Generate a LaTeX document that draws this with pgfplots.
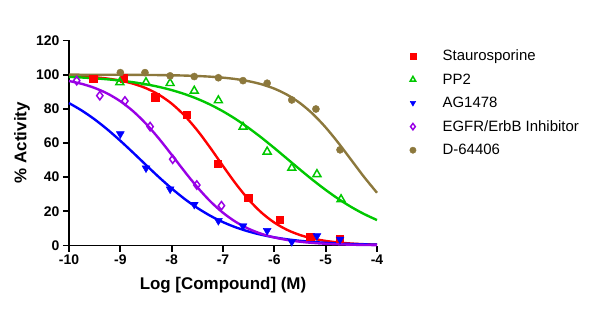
\documentclass[border=0pt]{standalone}
\usepackage{fontspec}
\setmainfont{Liberation Sans}
\usepackage{pgfplots}
\pgfplotsset{compat=1.18}
\definecolor{cRed}{RGB}{255,0,0}
\definecolor{cGreen}{RGB}{0,200,0}
\definecolor{cBlue}{RGB}{0,0,255}
\definecolor{cPurple}{RGB}{153,0,230}
\definecolor{cBrown}{RGB}{140,120,60}
\begin{document}
\begin{tikzpicture}
\path[use as bounding box] (-69bp,-77.5bp) rectangle (531bp,245.5bp);
\begin{axis}[
 at={(0,0)}, anchor=south west,
 scale only axis, width=308bp, height=205bp,
 xmin=-10, xmax=-4, ymin=0, ymax=120,
 axis x line*=bottom, axis y line*=left,
 axis line style={line width=2pt, -},
 xtick={-10,-9,...,-4}, ytick={0,20,...,120},
 tick align=outside, major tick length=6bp,
 tick style={line width=2pt, black},
 ticklabel style={font=\bfseries\fontsize{14}{16}\selectfont},
 /pgf/number format/assume math mode=true,
 xlabel={Log [Compound] (M)}, ylabel={\% Activity},
 label style={font=\bfseries\fontsize{17}{19}\selectfont},
 xlabel style={at={(axis description cs:0.5,-0.193)}, anchor=center},
 ylabel style={at={(axis description cs:-0.153,0.502)}, anchor=center},
 legend style={draw=none, fill=none, at={(axis description cs:1.096,0.975)}, anchor=north west,
   font=\fontsize{15}{16}\selectfont, row sep=7.5bp},
 legend image code/.code={\draw[#1,mark size=3.2pt] plot coordinates {(0.3cm-6bp,0cm)}; \path (0cm,0cm) (0.6cm+13bp,0cm);},
 legend cell align=left,
 clip=false,
]
% Staurosporine
\addplot[cRed, line width=2.4pt, smooth, forget plot] coordinates {
(-10,99.36) (-9.75,99.02) (-9.5,98.49) (-9.25,97.70) (-9,96.50) (-8.75,94.71) (-8.5,92.07) (-8.25,88.29)
(-8,83.05) (-7.75,76.08) (-7.5,67.38) (-7.25,57.29) (-7,46.55) (-6.75,36.13) (-6.5,26.86) (-6.25,19.25)
(-6,13.41) (-5.75,9.14) (-5.5,6.13) (-5.25,4.07) (-5,2.68) (-4.75,1.76) (-4.5,1.15) (-4.25,0.75) (-4,0.49)};
\addplot[only marks, mark=square*, mark size=3.6pt, color=cRed] coordinates {
(-9.53,97.5) (-8.94,97.9) (-8.32,86.8) (-7.71,76.8) (-7.11,48.1) (-6.51,28.2) (-5.90,14.9) (-5.30,5.2) (-4.72,4.2)};
\addlegendentry{Staurosporine}
% PP2
\addplot[cGreen, line width=2.4pt, smooth, forget plot] coordinates {
(-10,98.71) (-9.75,98.34) (-9.5,97.87) (-9.25,97.28) (-9,96.52) (-8.75,95.56) (-8.5,94.36) (-8.25,92.85)
(-8,90.97) (-7.75,88.66) (-7.5,85.86) (-7.25,82.49) (-7,78.53) (-6.75,73.95) (-6.5,68.79) (-6.25,63.12)
(-6,57.05) (-5.75,50.76) (-5.5,44.45) (-5.25,38.31) (-5,32.53) (-4.75,27.23) (-4.5,22.51) (-4.25,18.40) (-4,14.90)};
\addplot[only marks, mark=triangle, mark size=4.6pt, color=cGreen, mark options={line width=1.5pt}] coordinates {
(-9.01,95.5) (-8.50,95.5) (-8.03,95.0) (-7.56,90.5) (-7.09,84.9) (-6.61,69.4) (-6.14,54.9) (-5.66,45.4) (-5.17,41.7) (-4.70,27.0)};
\addlegendentry{PP2}
% AG1478
\addplot[cBlue, line width=2.4pt, smooth, forget plot] coordinates {
(-10,83.37) (-9.75,78.98) (-9.5,73.81) (-9.25,67.88) (-9,61.31) (-8.75,54.31) (-8.5,47.13) (-8.25,40.06)
(-8,33.39) (-7.75,27.31) (-7.5,21.99) (-7.25,17.45) (-7,13.68) (-6.75,10.62) (-6.5,8.18) (-6.25,6.27)
(-6,4.77) (-5.75,3.62) (-5.5,2.74) (-5.25,2.07) (-5,1.56) (-4.75,1.17) (-4.5,0.88) (-4.25,0.66) (-4,0.50)};
\addplot[only marks, mark=triangle*, mark size=4.6pt, color=cBlue, mark options={rotate=180}] coordinates {
(-9.0,65.3) (-8.50,45.3) (-8.03,33.0) (-7.56,24.0) (-7.09,14.5) (-6.61,11.4) (-6.14,8.7) (-5.66,2.2) (-5.17,5.6) (-4.72,3.6)};
\addlegendentry{AG1478}
% EGFR/ErbB Inhibitor
\addplot[cPurple, line width=2.4pt, smooth, forget plot] coordinates {
(-10,96.29) (-9.75,94.61) (-9.5,92.23) (-9.25,88.92) (-9,84.44) (-8.75,78.58) (-8.5,71.26) (-8.25,62.64)
(-8,53.13) (-7.75,43.38) (-7.5,34.13) (-7.25,25.94) (-7,19.15) (-6.75,13.80) (-6.5,9.77) (-6.25,6.82)
(-6,4.71) (-5.75,3.24) (-5.5,2.21) (-5.25,1.51) (-5,1.02) (-4.75,0.69) (-4.5,0.47) (-4.25,0.32) (-4,0.22)};
\addplot[only marks, mark=diamond, mark size=4.2pt, color=cPurple, mark options={line width=1.5pt}] coordinates {
(-9.85,96.5) (-9.40,87.7) (-8.91,84.6) (-8.42,69.6) (-7.98,50.5) (-7.51,35.4) (-7.03,23.3)};
\addlegendentry{EGFR/ErbB Inhibitor}
% D-64406
\addplot[cBrown, line width=2.4pt, smooth, forget plot] coordinates {
(-10,99.99) (-9.75,99.98) (-9.5,99.97) (-9.25,99.95) (-9,99.93) (-8.75,99.89) (-8.5,99.84) (-8.25,99.76)
(-8,99.65) (-7.75,99.47) (-7.5,99.21) (-7.25,98.83) (-7,98.25) (-6.75,97.41) (-6.5,96.17) (-6.25,94.38)
(-6,91.82) (-5.75,88.23) (-5.5,83.37) (-5.25,77.01) (-5,69.13) (-4.75,59.94) (-4.5,50.00) (-4.25,40.06) (-4,30.87)};
\addplot[only marks, mark=*, mark size=3.6pt, color=cBrown] coordinates {
(-9.0,101.2) (-8.52,101.2) (-8.03,99.3) (-7.56,98.9) (-7.09,98.2) (-6.61,96.5) (-6.14,95.0) (-5.66,85.2) (-5.19,79.9) (-4.72,56.0)};
\addlegendentry{D-64406}
\end{axis}
\end{tikzpicture}
\end{document}
